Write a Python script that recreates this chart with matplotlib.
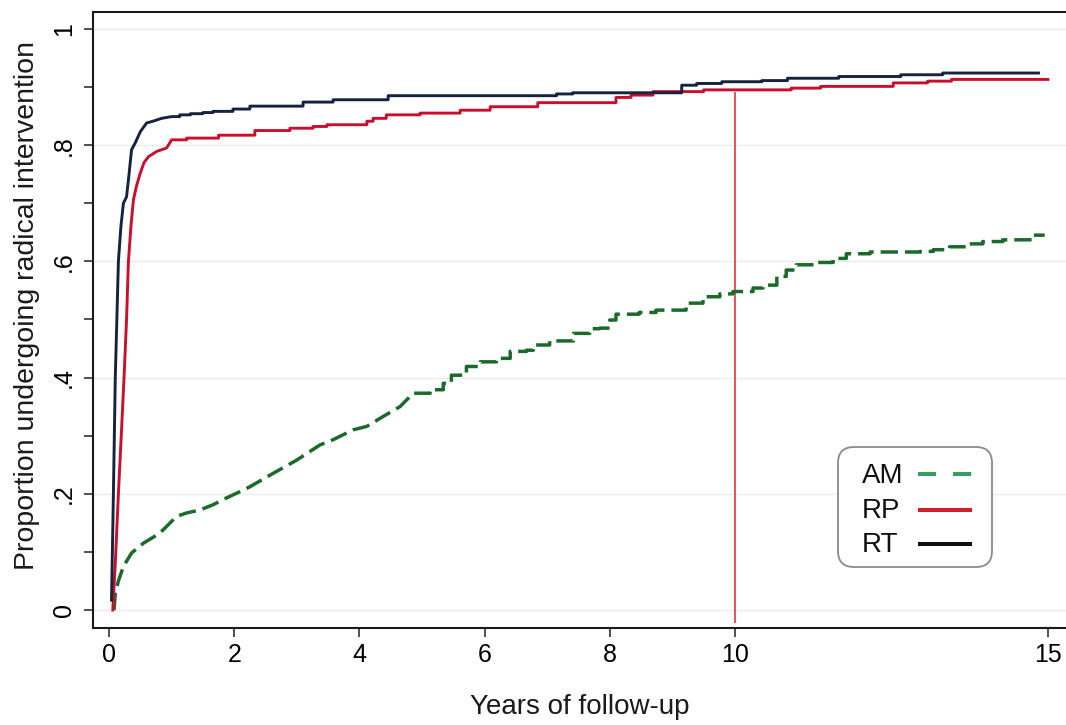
import matplotlib
matplotlib.use("Agg")
import matplotlib.pyplot as plt
from matplotlib.lines import Line2D
from matplotlib.patches import FancyBboxPatch
from matplotlib.transforms import Affine2D

plt.rcParams['font.family'] = ['Liberation Sans', 'DejaVu Sans']

# ---- data ----
rt_t = [0.04, 0.07, 0.10, 0.13, 0.15, 0.19, 0.23, 0.28, 0.32, 0.36, 0.42, 0.50, 0.60,
        0.70, 0.84, 1.00, 1.13, 1.30, 1.50, 1.66, 1.98, 2.25, 3.10, 3.58, 4.46, 7.15,
        7.41, 9.15, 9.39, 9.79, 10.43, 10.84, 11.66, 12.65, 13.32, 14.85]
rt_y = [0.017, 0.20, 0.40, 0.52, 0.60, 0.66, 0.70, 0.711, 0.75, 0.792, 0.804, 0.823, 0.838,
        0.841, 0.846, 0.849, 0.852, 0.854, 0.856, 0.858, 0.862, 0.867, 0.874, 0.878, 0.885, 0.888,
        0.890, 0.903, 0.906, 0.909, 0.911, 0.915, 0.918, 0.921, 0.924, 0.924]

rp_t = [0.06, 0.10, 0.15, 0.20, 0.24, 0.28, 0.31, 0.35, 0.39, 0.44, 0.50, 0.56, 0.63, 0.76,
        0.92, 1.00, 1.24, 1.75, 2.33, 2.89, 3.26, 3.48, 4.12, 4.22, 4.43, 4.97, 5.61, 6.09,
        6.85, 8.10, 8.34, 8.69, 9.50, 10.90, 11.37, 12.53, 13.08, 13.46, 15.0]
rp_y = [0.0, 0.08, 0.20, 0.31, 0.40, 0.50, 0.60, 0.66, 0.706, 0.73, 0.752, 0.77, 0.78, 0.789,
        0.795, 0.809, 0.812, 0.817, 0.825, 0.829, 0.832, 0.835, 0.841, 0.846, 0.852, 0.855, 0.86, 0.866,
        0.873, 0.882, 0.886, 0.892, 0.895, 0.898, 0.901, 0.907, 0.910, 0.913, 0.913]

am_t = [0.08, 0.10, 0.15, 0.23, 0.36, 0.55, 0.81, 1.08, 1.24, 1.45, 1.66, 1.88, 2.04, 2.25,
        2.62, 3.0, 3.37, 3.58, 3.9, 4.12, 4.38, 4.65, 4.86, 5.13, 5.34, 5.47, 5.71, 5.93, 6.19,
        6.41, 6.67, 6.78, 7.04, 7.26, 7.42, 7.68, 7.84, 8.0, 8.1, 8.47, 8.74, 9.0, 9.22, 9.49,
        9.76, 9.97, 10.29, 10.45, 10.67, 10.82, 10.98, 11.3, 11.57, 11.78, 12.16, 12.96, 13.17,
        13.43, 13.7, 13.96, 14.28, 14.55, 14.76, 14.95]
am_y = [0.0, 0.029, 0.05, 0.075, 0.098, 0.115, 0.132, 0.161, 0.167, 0.172, 0.181, 0.193, 0.201,
        0.212, 0.235, 0.258, 0.284, 0.293, 0.31, 0.316, 0.333, 0.35, 0.373, 0.379, 0.39, 0.404,
        0.419, 0.427, 0.433, 0.445, 0.447, 0.456, 0.463, 0.463, 0.476, 0.484, 0.485, 0.499, 0.509,
        0.512, 0.516, 0.516, 0.528, 0.539, 0.544, 0.548, 0.554, 0.559, 0.574, 0.585, 0.594, 0.598,
        0.605, 0.613, 0.616, 0.617, 0.62, 0.625, 0.63, 0.634, 0.637, 0.637, 0.645, 0.645]

ref_year = 10
ref_top = 0.89

x_ticks = [0, 2, 4, 6, 8, 10, 15]
y_ticks = [0, 0.2, 0.4, 0.6, 0.8, 1.0]
y_tick_labels = ['0', '.2', '.4', '.6', '.8', '1']
y_minor = [0.1, 0.3, 0.5, 0.7, 0.9]
legend_labels = ['AM', 'RP', 'RT']

c_rt = '#15233f'
c_rp = '#c8102e'
c_am = '#1b6a2c'
leg_colors = ['#3a9a60', '#d0202a', '#111111']


def km_path(t, y, smooth_until):
    """Kaplan-Meier style path: linear in the steep start, steps afterwards."""
    xs, ys = [t[0]], [y[0]]
    for i in range(1, len(t)):
        if t[i] <= smooth_until:
            xs.append(t[i]); ys.append(y[i])
        else:
            xs += [t[i], t[i]]; ys += [y[i - 1], y[i]]
    return xs, ys


# ---- figure ----
W, H = 1066, 725
fig = plt.figure(figsize=(W / 100, H / 100), dpi=100)
ax = fig.add_axes([93 / W, 1 - 628 / H, 1 - 93 / W, (628 - 12) / H])
ax.set_xlim(-0.256, 15.29)
ax.set_ylim(-0.031, 1.029)

for yv in y_ticks:
    ax.axhline(yv, color='#ebebeb', lw=1.0, zorder=0)

ax.plot([ref_year, ref_year], [-0.02, ref_top], color='#e05555', lw=1.4, zorder=1)

x, y = km_path(am_t, am_y, 5.0)
ax.plot(x, y, color=c_am, lw=2.5, dashes=(5, 2), zorder=3)
x, y = km_path(rp_t, rp_y, 1.0)
ax.plot(x, y, color=c_rp, lw=2.1, zorder=4)
x, y = km_path(rt_t, rt_y, 1.0)
ax.plot(x, y, color=c_rt, lw=2.1, zorder=5)

ax.set_xticks(x_ticks)
ax.set_xticklabels([str(v) for v in x_ticks])
ax.set_yticks(y_ticks)
ax.set_yticklabels(y_tick_labels, rotation=90, va='center')
ax.set_yticks(y_minor, minor=True)
ax.tick_params(axis='both', which='both', direction='out', length=6.5, width=1.1, color='#222222')
ax.tick_params(axis='x', labelsize=18, pad=4)
ax.tick_params(axis='y', labelsize=18, pad=6)

for s in ['left', 'bottom', 'top']:
    ax.spines[s].set_linewidth(1.5)
    ax.spines[s].set_color('#1a1a1a')
ax.spines['right'].set_visible(False)

ax.set_xlabel('Years of follow-up', fontsize=20, labelpad=20, color='#1a1a1a')
ax.set_ylabel('Proportion undergoing radical intervention', fontsize=20.5, color='#1a1a1a')
ax.yaxis.set_label_coords((40 - 93) / (W - 93), (628 - 305) / (628 - 12))

# ---- legend drawn manually (labels left-aligned, keys to the right) ----
pix = Affine2D().scale(1, -1).translate(0, H)   # top-left pixel coordinates
box = FancyBboxPatch((838, 447), 154, 120, boxstyle='round,pad=0,rounding_size=16',
                     transform=pix, facecolor='white', edgecolor='#8a8a8a', lw=1.3,
                     zorder=10)
fig.add_artist(box)
baselines = [483, 518, 552]
key_y = [474, 510, 544]
for i, lab in enumerate(legend_labels):
    fig.text(862, baselines[i], lab, transform=pix, fontsize=20, va='baseline', ha='left',
             color='#111111', zorder=11)
    ln = Line2D([918, 972], [key_y[i], key_y[i]], transform=pix, color=leg_colors[i], lw=2.9,
                solid_capstyle='butt', dash_capstyle='butt', zorder=11)
    if i == 0:
        ln.set_dashes((4.5, 4.2))
    fig.add_artist(ln)

fig.savefig('out.png', dpi=100)
